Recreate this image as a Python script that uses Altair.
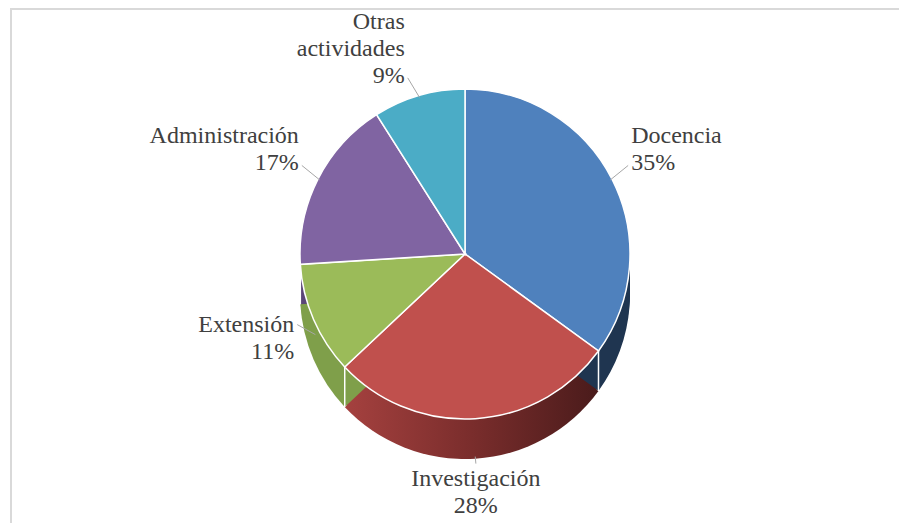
import altair as alt
import pandas as pd

# ---- data ----
categories = ["Docencia", "Investigación", "Extensión", "Administración", "Otras actividades"]
label_names = ["Docencia", "Investigación", "Extensión", "Administración", "Otras\nactividades"]
values = [35, 28, 11, 17, 9]

top_colors = ["#4F81BD", "#C0504D", "#9BBB59", "#8064A2", "#4BACC6"]
side_colors = ["#1f3550", "#7b2e2c", "#7f9f4a", "#5a4578", "#2f8098"]

df = pd.DataFrame({
    "category": categories,
    "label": label_names,
    "value": values,
    "idx": list(range(len(categories))),
})

# ---- layout (pixels, view coordinates) ----
W, H = 891, 515
CX, CY, R, DEPTH = 457, 246, 165, 40
G, HX = 8, 12
FS, LH = 24, 27
FONT = "Liberation Serif, Times New Roman, serif"

base = alt.Chart(df)
theta = alt.Theta("value:Q", stack=True)
order = alt.Order("idx:Q")

inv_grad = alt.Gradient(
    gradient="linear",
    stops=[alt.GradientStop(color="#a5413f", offset=0),
           alt.GradientStop(color="#7a2d2c", offset=0.5),
           alt.GradientStop(color="#4a1b1b", offset=1)],
    x1=0, x2=1, y1=0, y2=0,
)

side_layers = [
    base.transform_calculate(side_cat="datum.category").mark_arc(radius=R).encode(
        theta=theta, order=order,
        color=alt.condition(
            "datum.category === 'Investigación'", alt.value(inv_grad),
            alt.Color("side_cat:N", scale=alt.Scale(domain=categories, range=side_colors), legend=None),
        ),
        x=alt.value(CX), y=alt.value(CY + d),
    )
    for d in range(4, DEPTH + 1, 4)
]

top = base.mark_arc(radius=R, stroke="white", strokeWidth=1.5).encode(
    theta=theta, order=order,
    fill=alt.Fill("category:N", scale=alt.Scale(domain=categories, range=top_colors), legend=None),
    x=alt.value(CX), y=alt.value(CY),
)

cum = (
    base.transform_joinaggregate(total="sum(value)")
    .transform_window(cum="sum(value)", sort=[alt.SortField("idx")], frame=[None, 0])
)

# white seams on the visible side where two slices meet
seams = (
    cum.transform_calculate(b="2*PI*datum.cum/datum.total")
    .transform_calculate(bs="sin(datum.b)", bc="cos(datum.b)")
    .transform_filter("datum.bc < 0")
    .transform_calculate(
        sx=f"{CX} + {R}*datum.bs",
        sy=f"{CY} - {R}*datum.bc",
        sy2=f"{CY} - {R}*datum.bc + {DEPTH}",
    )
    .mark_rule(color="white", strokeWidth=1.5)
    .encode(x=alt.X("sx:Q", scale=None), y=alt.Y("sy:Q", scale=None), y2="sy2:Q")
)

geo = (
    cum.transform_calculate(mid="2*PI*(datum.cum - datum.value/2)/datum.total")
    .transform_calculate(s="sin(datum.mid)", c="cos(datum.mid)")
    .transform_calculate(
        hs="datum.s > 0.25 ? 1 : (datum.s < -0.25 ? -1 : 0)",
        dz=f"datum.c < 0 ? {DEPTH}*(-datum.c) : 0",
        txt="datum.label + '\\n' + datum.value + '%'",
        va="datum.c > 0.3 ? 'bottom' : (datum.c < -0.7 ? 'top' : 'middle')",
    )
    .transform_calculate(
        nl="length(split(datum.txt, '\\n'))",
        lx=f"{CX} + {R + G}*datum.s + {HX}*datum.hs",
        ly=f"{CY} - {R + G}*datum.c + datum.dz",
        ex=f"{CX} + {R - 2}*datum.s",
        ey=f"{CY} - {R - 2}*datum.c + datum.dz",
    )
    .transform_calculate(
        ty=f"datum.va == 'bottom' ? datum.ly - (datum.nl - 1)*{LH} : "
           f"(datum.va == 'middle' ? datum.ly - (datum.nl - 1)*{LH / 2} : datum.ly)",
        rx="datum.lx - 3*datum.hs",
        ry="datum.hs == 0 ? datum.ly - 3 : (datum.va == 'bottom' ? datum.ly - 10 : datum.ly - 14)",
    )
)

leaders = geo.mark_rule(color="#a6a6a6", strokeWidth=1).encode(
    x=alt.X("ex:Q", scale=None), y=alt.Y("ey:Q", scale=None),
    x2="rx:Q", y2="ry:Q",
)

text_layers = []
for hs, align in [(1, "left"), (-1, "right"), (0, "center")]:
    for va in ["bottom", "middle", "top"]:
        text_layers.append(
            geo.transform_filter(f"datum.hs == {hs} && datum.va == '{va}'")
            .mark_text(align=align, baseline=va, font=FONT, fontSize=FS, lineHeight=LH,
                       lineBreak="\n", color="#404040")
            .encode(x=alt.X("lx:Q", scale=None), y=alt.Y("ty:Q", scale=None), text="txt:N")
        )

frame = base.mark_rect(fill=None, stroke="#d9d9d9", strokeWidth=2).encode(
    x=alt.value(3), x2=alt.value(W + 20), y=alt.value(1), y2=alt.value(H + 20),
)

chart = alt.layer(frame, *side_layers, seams, top, leaders, *text_layers).resolve_scale(
    color="independent", fill="independent"
).properties(
    width=W, height=H, padding=0, autosize=alt.AutoSizeParams(type="none"),
).configure_view(stroke=None)

chart.save("out.html", embed_options={"renderer": "svg", "actions": False})
